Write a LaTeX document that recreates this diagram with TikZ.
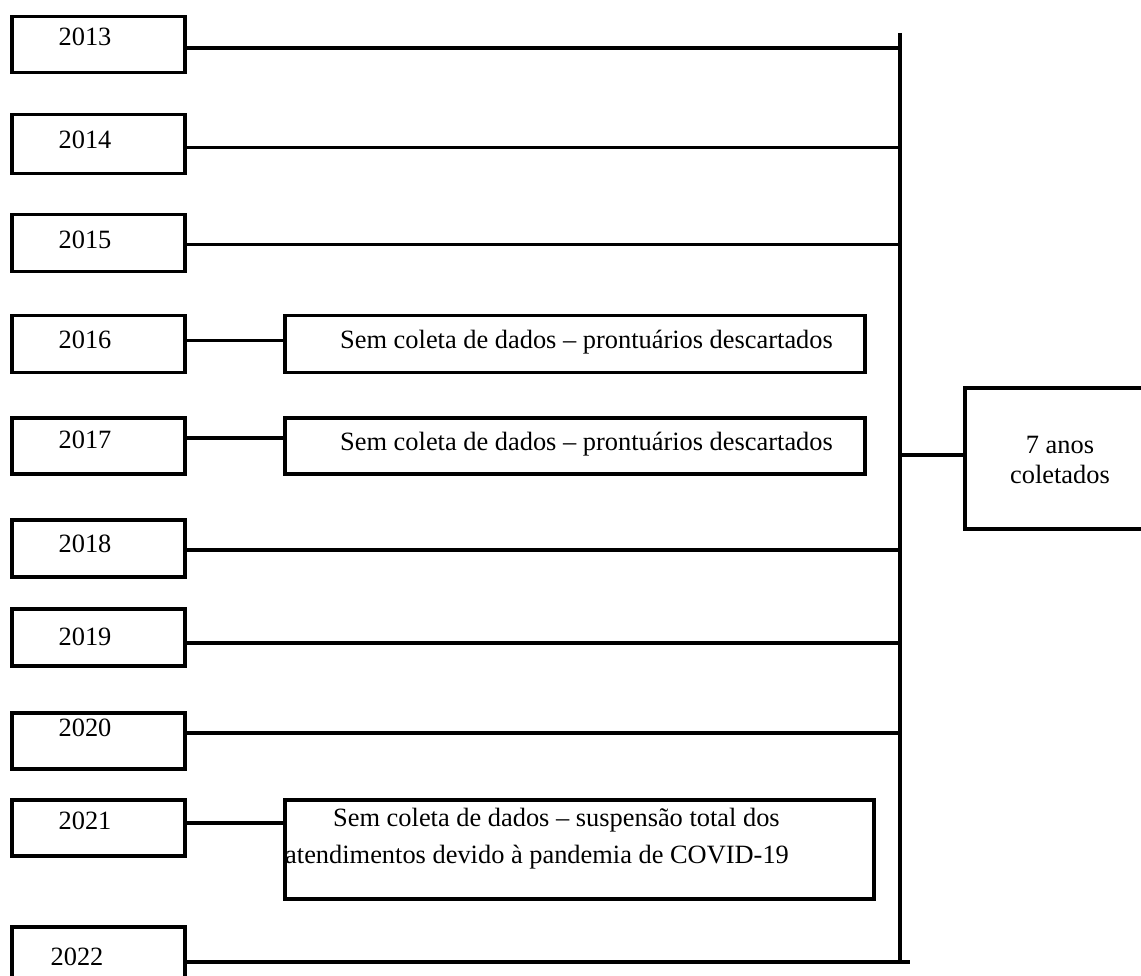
\documentclass[tikz,border=0pt]{standalone}
\usepackage{fontspec}
\setmainfont{Liberation Serif}
\begin{document}
\begin{tikzpicture}[x=1pt,y=-1pt,
  box/.style={draw=black,line width=3.5pt,rectangle,inner sep=0pt},
  yearbox/.style={box,minimum width=173pt,minimum height=56pt,anchor=north west},
  txt/.style={inner sep=0pt,font=\fontsize{26.4}{31}\selectfont},
  conn/.style={line width=3.5pt}]
\useasboundingbox (0,0) rectangle (1141,976);
\clip (0,0) rectangle (1141,976);
\fill[white] (0,0) rectangle (1141,976);
% spine
\coordinate (sTop) at (900,33);
\coordinate (sBot) at (900,962);
\draw[conn] (sTop) -- (sBot);
% year boxes
\node[yearbox] (b2013) at (10,15) {};
\node[yearbox,minimum height=59pt] (b2014) at (10,113) {};
\node[yearbox,minimum height=57pt] (b2015) at (10,213) {};
\node[yearbox,minimum height=57pt] (b2016) at (10,314) {};
\node[yearbox] (b2017) at (10,416) {};
\node[yearbox,minimum height=57pt] (b2018) at (10,518) {};
\node[yearbox,minimum height=57pt] (b2019) at (10,607) {};
\node[yearbox] (b2020) at (10,711) {};
\node[yearbox] (b2021) at (10,798) {};
\node[yearbox,minimum height=70pt] (b2022) at (10,925) {};
% year labels
\node[txt] (t2013) at (85,37) {2013};
\node[txt] (t2014) at (85,140) {2014};
\node[txt] (t2015) at (85,240) {2015};
\node[txt] (t2016) at (85,340) {2016};
\node[txt] (t2017) at (85,440) {2017};
\node[txt] (t2018) at (85,544) {2018};
\node[txt] (t2019) at (85,637) {2019};
\node[txt] (t2020) at (85,728) {2020};
\node[txt] (t2021) at (85,821) {2021};
\node[txt] (t2022) at (77,957) {2022};
% no-data boxes
\node[box,minimum width=580pt,minimum height=57pt,anchor=north west] (n2016) at (283,314) {};
\node[txt,anchor=west] (m2016) at (340,342) {Sem coleta de dados -- prontuários descartados};
\node[box,minimum width=580pt,minimum height=56pt,anchor=north west] (n2017) at (283,416) {};
\node[txt,anchor=west] (m2017) at (340,444) {Sem coleta de dados -- prontuários descartados};
\node[box,minimum width=589pt,minimum height=99pt,anchor=north west] (n2021) at (283,798) {};
\node[txt,anchor=west] (m2021a) at (333,820) {Sem coleta de dados -- suspensão total dos};
\node[txt,anchor=west] (m2021b) at (285,857) {atendimentos devido à pandemia de COVID-19};
% result box
\node[box,minimum width=194pt,minimum height=141pt,anchor=north west] (res) at (963,386) {};
\node[txt] (r1) at (1060,445) {7 anos};
\node[txt] (r2) at (1060,474) {coletados};
% connectors
\draw[conn] ([yshift=-3.5pt]b2013.east) -- ([yshift=-3.5pt]b2013.east -| sTop);
\draw[conn] ([yshift=-3.5pt]b2014.east) -- ([yshift=-3.5pt]b2014.east -| sTop);
\draw[conn] ([yshift=-1.5pt]b2015.east) -- ([yshift=-1.5pt]b2015.east -| sTop);
\draw[conn] ([yshift=3.5pt]b2016.east) -- ([yshift=3.5pt]n2016.west);
\draw[conn] ([yshift=8pt]b2017.east) -- ([yshift=8pt]n2017.west);
\draw[conn] ([yshift=-1.5pt]b2018.east) -- ([yshift=-1.5pt]b2018.east -| sTop);
\draw[conn] ([yshift=-5.5pt]b2019.east) -- ([yshift=-5.5pt]b2019.east -| sTop);
\draw[conn] ([yshift=8pt]b2020.east) -- ([yshift=8pt]b2020.east -| sTop);
\draw[conn] ([yshift=5pt]b2021.east) -- ([yshift=5pt]b2021.east -| n2021.west);
\coordinate (e2022) at (910,962);
\draw[conn] (b2022.east |- e2022) -- (e2022);
\draw[conn] ([yshift=3.5pt]res.west -| sTop) -- ([yshift=3.5pt]res.west);
\end{tikzpicture}
\end{document}
